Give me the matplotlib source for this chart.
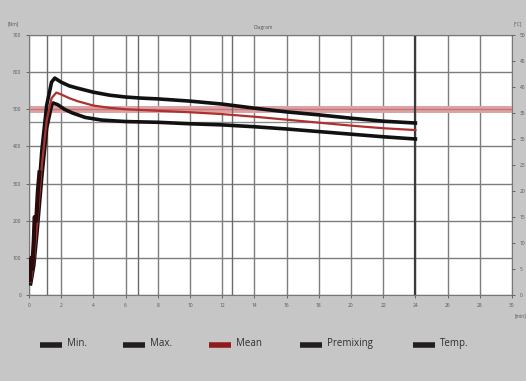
import matplotlib.pyplot as plt
from matplotlib.lines import Line2D

# time [min] and torque readings for each curve
t_max = [0.1, 0.3, 0.5, 0.8, 1.1, 1.4, 1.6, 2.0, 2.5, 3, 4, 5, 6, 7, 8, 10, 12, 14, 16, 18, 20, 22, 24]
v_max = [40, 108, 215, 390, 511, 573, 584, 573, 563, 557, 546, 538, 533, 530, 528, 522, 514, 503, 493, 485, 476, 468, 463]

t_mean = [0.1, 0.3, 0.5, 0.8, 1.1, 1.4, 1.7, 2.0, 2.5, 3, 4, 5, 6, 7, 8, 10, 12, 14, 16, 18, 20, 22, 24]
v_mean = [35, 90, 190, 350, 470, 530, 545, 540, 530, 522, 510, 504, 500, 498, 496, 492, 487, 480, 472, 464, 456, 449, 444]

t_min = [0.1, 0.3, 0.5, 0.8, 1.1, 1.4, 1.5, 1.8, 2.2, 2.7, 3.5, 4.5, 6, 7, 8, 10, 12, 14, 16, 18, 20, 22, 24]
v_min = [30, 80, 170, 320, 450, 510, 517, 512, 500, 490, 478, 471, 467, 466, 465, 461, 458, 453, 447, 440, 433, 426, 420]

t_premix = [0.05, 0.15, 0.2, 0.3, 0.35, 0.45, 0.55, 0.65]
v_premix = [40, 100, 70, 150, 210, 200, 280, 330]

ref_upper = 500
ref_lower = 465
markers_t = [1.1, 6.8, 12.6]
end_t = 24

x_ticks = list(range(0, 31, 2))
y_ticks = list(range(0, 701, 100))
y2_ticks = list(range(0, 51, 5))

legend_names = ["Min.", "Max.", "Mean", "Premixing", "Temp."]
legend_colors = ["#231f20", "#231f20", "#8e1b1e", "#231f20", "#231f20"]

fig = plt.figure(figsize=(5.26, 3.81), dpi=100)
fig.patch.set_facecolor("#c6c6c6")
plt.rcParams["font.family"] = ["Open Sans", "DejaVu Sans"]

ax = fig.add_axes([29 / 526, 86 / 381, 483 / 526, 260 / 381])
ax.set_facecolor("white")
ax.set_xlim(0, 30)
ax.set_ylim(0, 700)
ax.set_xticks(x_ticks)
ax.set_yticks(y_ticks)
ax.grid(True, color="#7d7d7d", lw=1.0)
ax.tick_params(labelsize=3.5, colors="#555555", length=2, width=0.6)

ax.axhline(ref_upper, color="#dba3a3", lw=5, zorder=2)
ax.axhline(ref_upper, color="#c77575", lw=1.0, zorder=2)
ax.hlines(ref_lower, 0, end_t, color="#8a8a8a", lw=1.0, zorder=2)
for m in markers_t:
    ax.axvline(m, color="#6a6a6a", lw=1.0, zorder=2)
ax.axvline(end_t, color="#3a3a3a", lw=1.6, zorder=2)

ax.plot(t_max, v_max, color="#111111", lw=2.6, zorder=4)
ax.plot(t_min, v_min, color="#111111", lw=2.6, zorder=4)
ax.plot(t_mean, v_mean, color="#b03030", lw=1.6, zorder=5)
ax.plot(t_premix, v_premix, color="#2a0a0a", lw=3.0, zorder=6)

for s in ax.spines.values():
    s.set_color("#777777")
    s.set_linewidth(0.8)

ax2 = ax.twinx()
ax2.set_ylim(0, 50)
ax2.set_yticks(y2_ticks)
ax2.tick_params(labelsize=3.5, colors="#555555", length=2, width=0.6)
for s in ax2.spines.values():
    s.set_visible(False)

fig.text(8 / 526, 1 - 24 / 381, "[Nm]", fontsize=3.5, color="#555555", va="center")
fig.text(514 / 526, 1 - 24 / 381, "[°C]", fontsize=3.5, color="#555555", va="center")
fig.text(263 / 526, 1 - 27 / 381, "Diagram", fontsize=3.5, color="#555555", ha="center", va="center")
fig.text(515 / 526, 1 - 316 / 381, "[min]", fontsize=3.5, color="#555555", va="center")

# legend row
handle_x = [40, 123, 209, 300, 413]
y_leg = 1 - 345 / 381
for hx, name, col in zip(handle_x, legend_names, legend_colors):
    fig.add_artist(Line2D([hx / 526, (hx + 22) / 526], [y_leg, y_leg], color=col, lw=4,
                          solid_capstyle="butt"))
    fig.text((hx + 27) / 526, y_leg + 0.003, name, fontsize=7, color="#2e2e2e",
             va="center")

fig.savefig("out.png", dpi=100, facecolor=fig.get_facecolor())
